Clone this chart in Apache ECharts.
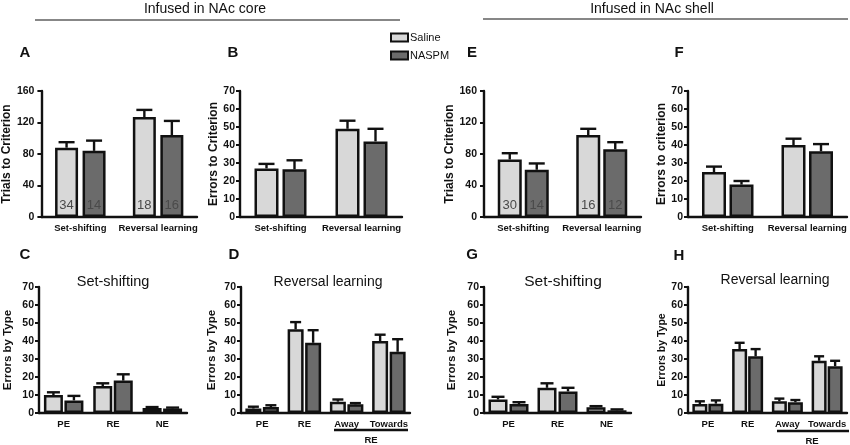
<!DOCTYPE html>
<html>
<head>
<meta charset="utf-8">
<script src="https://cdn.jsdelivr.net/npm/echarts@6/dist/echarts.min.js"></script>
<style>
html, body { margin: 0; padding: 0; background: #fff; }
#main { width: 850px; height: 445px; }
</style>
</head>
<body>
<div id="main"></div>
<script>
// categories
var phaseCats = ['Set-shifting', 'Reversal learning'];
var ssTypeCats = ['PE', 'RE', 'NE'];
var revTypeCats = ['PE', 'RE', 'Away', 'Towards'];

// A: trials to criterion, NAc core
var trialsCoreSal = [88, 127], trialsCoreSalTop = [95, 136];
var trialsCoreNas = [84, 104], trialsCoreNasTop = [97, 122];
var nCoreSal = [34, 18], nCoreNas = [14, 16];
// B: errors to criterion, NAc core
var errCoreSal = [27, 49], errCoreSalTop = [29.5, 53.5];
var errCoreNas = [26.5, 42], errCoreNasTop = [31.5, 49];
// C: set-shifting errors by type, core
var ssCoreSal = [10, 15, 2.8], ssCoreSalTop = [11.5, 16.5, 3.3];
var ssCoreNas = [7, 18, 2.5], ssCoreNasTop = [9.5, 21.5, 3.0];
// D: reversal errors by type, core
var revCoreSal = [2.5, 46.5, 6.3, 40], revCoreSalTop = [3.5, 50.5, 7.5, 43.5];
var revCoreNas = [3.3, 39, 4.8, 34], revCoreNasTop = [4.3, 46, 5.5, 41];
// E: trials to criterion, NAc shell
var trialsShellSal = [73, 104], trialsShellSalTop = [81, 112];
var trialsShellNas = [60, 86], trialsShellNasTop = [68, 95];
var nShellSal = [30, 16], nShellNas = [14, 12];
// F: errors to criterion, shell
var errShellSal = [25, 40], errShellSalTop = [28, 43.5];
var errShellNas = [18, 36.5], errShellNasTop = [20, 40.5];
// G: set-shifting errors by type, shell
var ssShellSal = [7.5, 14, 3.2], ssShellSalTop = [9, 16.5, 3.8];
var ssShellNas = [5, 12, 1.5], ssShellNasTop = [6, 14, 2];
// H: reversal errors by type, shell
var revShellSal = [5, 35.5, 6.5, 29], revShellSalTop = [6.5, 39, 8, 31.5];
var revShellNas = [5.2, 31.5, 6, 26], revShellNasTop = [7, 35.5, 7.2, 29];

var FONT = 'Liberation Sans, Arial, Helvetica, sans-serif';
var SAL_COLOR = '#d8d8d8', NAS_COLOR = '#6b6b6b', INK = '#111';

var panels = [
  {left: 39, top: 91, width: 158, cats: phaseCats, max: 160, step: 40, yName: 'Trials to Criterion',
   sal: trialsCoreSal, salTop: trialsCoreSalTop, nas: trialsCoreNas, nasTop: trialsCoreNasTop,
   nSal: nCoreSal, nNas: nCoreNas, bw: 23, gap: 4.5, nameGap: 25, nameSize: 12, lblMargin: 7},
  {left: 240, top: 91, width: 162, cats: phaseCats, max: 70, step: 10, yName: 'Errors to Criterion',
   sal: errCoreSal, salTop: errCoreSalTop, nas: errCoreNas, nasTop: errCoreNasTop,
   bw: 24, gap: 4, nameGap: 16, nameSize: 12, lblMargin: 5},
  {left: 484, top: 91, width: 157, cats: phaseCats, max: 160, step: 40, yName: 'Trials to Criterion',
   sal: trialsShellSal, salTop: trialsShellSalTop, nas: trialsShellNas, nasTop: trialsShellNasTop,
   nSal: nShellSal, nNas: nShellNas, bw: 24, gap: 3, nameGap: 25, nameSize: 12, lblMargin: 7},
  {left: 688, top: 91, width: 159, cats: phaseCats, max: 70, step: 10, yName: 'Errors to criterion',
   sal: errShellSal, salTop: errShellSalTop, nas: errShellNas, nasTop: errShellNasTop,
   bw: 24, gap: 3.5, nameGap: 18, nameSize: 12, lblMargin: 5},
  {left: 39, top: 287, width: 148, cats: ssTypeCats, max: 70, step: 10, yName: 'Errors by Type',
   sal: ssCoreSal, salTop: ssCoreSalTop, nas: ssCoreNas, nasTop: ssCoreNasTop,
   bw: 19, gap: 1.5, nameGap: 25, nameSize: 11.5, lblMargin: 5},
  {left: 241, top: 287, width: 169, cats: revTypeCats, max: 70, step: 10, yName: 'Errors by Type',
   sal: revCoreSal, salTop: revCoreSalTop, nas: revCoreNas, nasTop: revCoreNasTop,
   bw: 16, gap: 1.5, nameGap: 23, nameSize: 11.5, lblMargin: 5},
  {left: 484, top: 287, width: 147, cats: ssTypeCats, max: 70, step: 10, yName: 'Errors by Type',
   sal: ssShellSal, salTop: ssShellSalTop, nas: ssShellNas, nasTop: ssShellNasTop,
   bw: 19, gap: 2, nameGap: 26, nameSize: 11.5, lblMargin: 5},
  {left: 688, top: 287, width: 159, cats: revTypeCats, max: 70, step: 10, yName: 'Errors by Type',
   sal: revShellSal, salTop: revShellSalTop, nas: revShellNas, nasTop: revShellNasTop,
   bw: 15, gap: 1, nameGap: 19, nameSize: 10.5, lblMargin: 5}
];

var grids = [], xAxes = [], yAxes = [], series = [];

function errorBars(idx, vals, tops, shift, capW) {
  return {
    type: 'custom',
    xAxisIndex: idx, yAxisIndex: idx,
    z: 5,
    encode: {x: 0, y: [1, 2]},
    data: vals.map(function (v, i) { return [i, v, tops[i]]; }),
    renderItem: function (params, api) {
      var p0 = api.coord([api.value(0), api.value(1)]);
      var p1 = api.coord([api.value(0), api.value(2)]);
      var x = p0[0] + shift;
      var st = {stroke: INK, lineWidth: 2.4};
      return {
        type: 'group',
        children: [
          {type: 'line', shape: {x1: x, y1: p0[1], x2: x, y2: p1[1]}, style: st},
          {type: 'line', shape: {x1: x - capW / 2, y1: p1[1], x2: x + capW / 2, y2: p1[1]}, style: st}
        ]
      };
    }
  };
}

panels.forEach(function (p, idx) {
  grids.push({left: p.left, top: p.top, width: p.width, height: 126});
  xAxes.push({
    type: 'category', gridIndex: idx, data: p.cats,
    axisLine: {lineStyle: {color: INK, width: 2.4}},
    axisTick: {show: false},
    axisLabel: {color: INK, fontWeight: 'bold', fontSize: 9.5, margin: 6, interval: 0}
  });
  yAxes.push({
    type: 'value', gridIndex: idx, min: 0, max: p.max, interval: p.step,
    name: p.yName, nameLocation: 'middle', nameGap: p.nameGap,
    nameTextStyle: {color: INK, fontWeight: 'bold', fontSize: p.nameSize},
    axisLine: {show: true, lineStyle: {color: INK, width: 2.4}},
    axisTick: {show: true, length: 4, lineStyle: {color: INK, width: 2}},
    axisLabel: {color: INK, fontWeight: 'bold', fontSize: 10.5, margin: p.lblMargin},
    splitLine: {show: false}
  });
  var gapPct = (p.gap / p.bw * 100) + '%';
  var mkBar = function (name, vals, color, nArr) {
    var s = {
      type: 'bar', name: name, xAxisIndex: idx, yAxisIndex: idx,
      data: vals, barWidth: p.bw, barGap: gapPct,
      itemStyle: {color: color, borderColor: INK, borderWidth: 2.5},
      emphasis: {disabled: true}
    };
    if (nArr) {
      s.label = {
        show: true, position: 'insideBottom', distance: 5,
        color: '#4a4a4a', fontSize: 13,
        formatter: function (q) { return String(nArr[q.dataIndex]); }
      };
    }
    return s;
  };
  series.push(mkBar('Saline', p.sal, SAL_COLOR, p.nSal));
  series.push(mkBar('NASPM', p.nas, NAS_COLOR, p.nNas));
  var shift = (p.bw + p.gap) / 2;
  var capW = Math.round(p.bw * 0.68);
  series.push(errorBars(idx, p.sal, p.salTop, -shift, capW));
  series.push(errorBars(idx, p.nas, p.nasTop, shift, capW));
});

function txt(x, y, s, font, align) {
  return {type: 'text', x: x, y: y, silent: true,
    style: {text: s, font: font, fill: INK, textAlign: align || 'center', textVerticalAlign: 'middle'}};
}
function ln(x1, y1, x2, y2, w) {
  return {type: 'line', silent: true, shape: {x1: x1, y1: y1, x2: x2, y2: y2},
    style: {stroke: INK, lineWidth: w}};
}

var graphics = [
  txt(205, 9, 'Infused in NAc core', '14px ' + FONT),
  ln(35, 20, 400, 20, 1.2),
  txt(652, 9, 'Infused in NAc shell', '14px ' + FONT),
  ln(483, 19, 848, 19, 1.2),
  txt(25, 53, 'A', 'bold 15px ' + FONT),
  txt(233, 53, 'B', 'bold 15px ' + FONT),
  txt(472, 53, 'E', 'bold 15px ' + FONT),
  txt(679, 53, 'F', 'bold 15px ' + FONT),
  txt(25, 255, 'C', 'bold 15px ' + FONT),
  txt(234, 255, 'D', 'bold 15px ' + FONT),
  txt(472, 255, 'G', 'bold 15px ' + FONT),
  txt(679, 256, 'H', 'bold 15px ' + FONT),
  txt(113, 282, 'Set-shifting', '14.5px ' + FONT),
  txt(328, 282, 'Reversal learning', '14px ' + FONT),
  txt(563, 282, 'Set-shifting', '15.5px ' + FONT),
  txt(775, 280, 'Reversal learning', '14px ' + FONT),
  ln(334, 430, 408, 430, 2.4),
  txt(371, 440, 'RE', 'bold 9.5px ' + FONT),
  ln(777, 431, 849, 431, 2.4),
  txt(812, 441, 'RE', 'bold 9.5px ' + FONT)
];

var myChart = echarts.init(document.getElementById('main'));
var option = {
  animation: false,
  textStyle: {fontFamily: FONT},
  legend: {
    data: ['Saline', 'NASPM'], orient: 'vertical', left: 390, top: 32, padding: 0,
    itemWidth: 17, itemHeight: 8, itemGap: 7, icon: 'rect',
    itemStyle: {borderColor: INK, borderWidth: 2},
    textStyle: {color: INK, fontSize: 11, padding: [0, 0, 0, -3]},
    selectedMode: false
  },
  grid: grids,
  xAxis: xAxes,
  yAxis: yAxes,
  series: series,
  graphic: graphics
};
myChart.setOption(option);
</script>
</body>
</html>
